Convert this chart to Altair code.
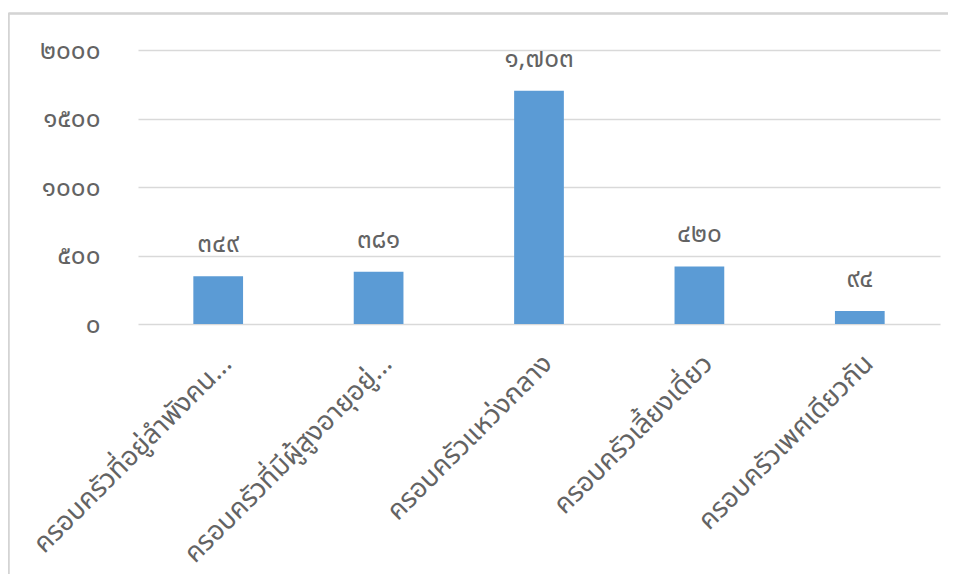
import altair as alt
import pandas as pd

categories = [
    "ครอบครัวที่อยู่ลำพังคน...",
    "ครอบครัวที่มีผู้สูงอายุอยู่...",
    "ครอบครัวแหว่งกลาง",
    "ครอบครัวเลี้ยงเดี่ยว",
    "ครอบครัวเพศเดียวกัน",
]
values = [349, 381, 1703, 420, 94]
y_ticks = [0, 500, 1000, 1500, 2000]
y_tick_labels = ["๐", "๕๐๐", "๑๐๐๐", "๑๕๐๐", "๒๐๐๐"]

THAI = str.maketrans("0123456789", "๐๑๒๓๔๕๖๗๘๙")
value_labels = [f"{v:,}".translate(THAI) for v in values]

df = pd.DataFrame({"cat": categories, "val": values, "lbl": value_labels})

label_expr = " : ".join(
    f"datum.value == {v} ? '{t}'" for v, t in zip(y_ticks, y_tick_labels)
) + " : ''"

FONT = "Noto Sans Thai, Leelawadee UI, Tahoma, Noto Sans"
GREY = "#636363"

x_enc = alt.X(
    "cat:N",
    sort=categories,
    title=None,
    scale=alt.Scale(paddingInner=0.69, paddingOuter=0.345),
    axis=alt.Axis(
        labelAngle=-45,
        labelFontSize=27,
        labelFontWeight="normal",
        labelColor=GREY,
        labelFont=FONT,
        labelLimit=0,
        labelPadding=26,
        ticks=False,
        domain=False,
        grid=False,
    ),
)
y_enc = alt.Y(
    "val:Q",
    title=None,
    scale=alt.Scale(domain=[0, 2000], nice=False),
    axis=alt.Axis(
        values=y_ticks,
        labelExpr=label_expr,
        labelFontSize=26,
        labelFontWeight="normal",
        labelColor=GREY,
        labelFont=FONT,
        labelPadding=38,
        ticks=False,
        domain=False,
        gridColor="#d9d9d9",
        gridWidth=1.3,
    ),
)

base = alt.Chart(df)
bars = base.mark_bar(color="#5B9BD5").encode(x=x_enc, y=y_enc)
texts = base.mark_text(
    baseline="bottom", dy=-19, fontSize=26, font=FONT, color=GREY
).encode(x=alt.X("cat:N", sort=categories), y="val:Q", text="lbl:N")

frame_left = alt.Chart(df).mark_rule(color="#d4d4d4", strokeWidth=1.5).encode(
    x=alt.value(-129.5), y=alt.value(-36.5), y2=alt.value(560)
)
frame_top = alt.Chart(df).mark_rule(color="#d4d4d4", strokeWidth=1.5).encode(
    x=alt.value(-129.5), x2=alt.value(820), y=alt.value(-36.5)
)

chart = (
    alt.layer(frame_left, frame_top, bars, texts)
    .properties(
        width=802,
        height=274,
        autosize=alt.AutoSizeParams(type="none"),
        padding={"left": 130, "top": 42, "right": 8, "bottom": 250},
        background="white",
    )
    .configure_view(stroke="transparent", strokeWidth=0)
)

chart.save("out.html", embed_options={"renderer": "svg", "actions": False})
